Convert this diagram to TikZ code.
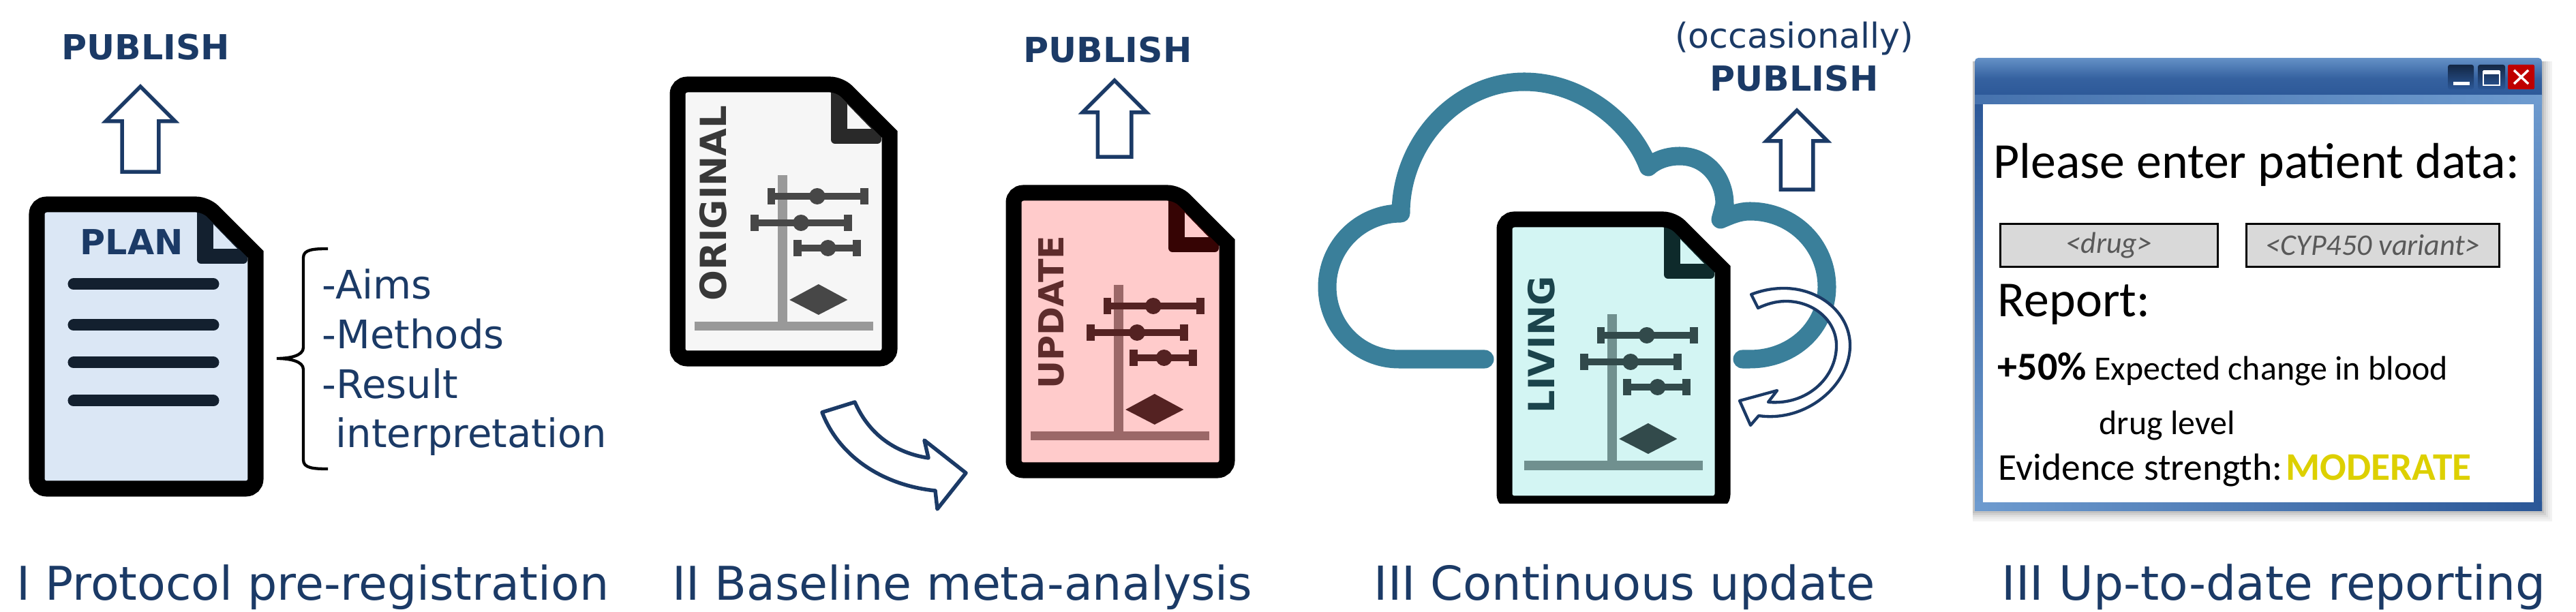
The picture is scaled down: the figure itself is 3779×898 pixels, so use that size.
\documentclass[tikz,border=0pt]{standalone}
\usepackage{fontspec}
\setmainfont{DejaVu Sans}
\newfontfamily\calibrifont{Carlito}
\usepackage{tikz}
\usetikzlibrary{shapes.arrows, positioning, calc}

\definecolor{navy}{HTML}{1B3A66}
\definecolor{cloudblue}{HTML}{3A7F9A}
\definecolor{framedark}{HTML}{2B5797}
\definecolor{framelight}{HTML}{6E9BCF}
\definecolor{plantint}{HTML}{DBE7F5}
\definecolor{plandark}{HTML}{13202F}
\definecolor{origtint}{HTML}{F6F6F6}
\definecolor{origdark}{HTML}{292929}
\definecolor{updatetint}{HTML}{FFCBCB}
\definecolor{updatedark}{HTML}{360404}
\definecolor{livingtint}{HTML}{D3F5F3}
\definecolor{livingdark}{HTML}{0E2A2B}
\definecolor{moderatecol}{HTML}{DDD000}

% one sheet: origin, width, height, paper colour, fold colour
\newcommand{\docsheet}[5]{
\begin{scope}[shift={#1}]
\fill[#4] (12,12) -- (#2-84,12) -- (#2-12,84) -- (#2-12,#3-12) -- (12,#3-12) -- cycle;
\fill[#5, rounded corners=0.06cm] (#2-98,14) -- (#2-98,99) -- (#2-24,99) -- (#2-24,80) -- (#2-85,14) -- cycle;
\fill[#4] (#2-74,41) -- (#2-74,77) -- (#2-39,77) -- cycle;
\draw[line width=0.23cm, rounded corners=0.14cm] (#2-12,85) -- (#2-12,#3-12) -- (12,#3-12) -- (12,12) -- (#2-85,12) [sharp corners] -- (#2-12,85) -- cycle;
\end{scope}}

% forest plot: origin, bar colour, axis colour
\newcommand{\forestplot}[3]{
\begin{scope}[shift={#1}, xscale=0.99]
\draw[#3, line width=0.14cm] (168,147) -- (168,366);
\draw[#3, line width=0.13cm] (37,369) -- (302,369);
\foreach \rowy/\lo/\hi/\mid in {178/151/289/219, 217/126/265/195, 254/190/278/235}{
  \draw[#2, line width=0.105cm] (\lo,\rowy) -- (\hi,\rowy);
  \fill[#2] (\lo-6,\rowy-12) rectangle (\lo+6,\rowy+12);
  \fill[#2] (\hi-6,\rowy-12) rectangle (\hi+6,\rowy+12);
  \fill[#2] (\mid,\rowy) circle (12);
}
\fill[#2] (178,330) -- (221,307) -- (264,330) -- (221,352) -- cycle;
\end{scope}}

\tikzset{
  publish/.style={font=\fontsize{14.4}{16}\selectfont\bfseries, text=navy, anchor=base, inner sep=0pt},
  doclabel/.style={font=\fontsize{15}{17}\selectfont\bfseries, rotate=90, anchor=center, inner sep=0pt},
  caption/.style={font=\fontsize{#1}{22}\selectfont, text=navy, anchor=base west, inner sep=0pt},
  uparrow/.style n args={3}{single arrow, draw=navy, fill=white, line width=0.055cm, rotate=90, anchor=tip,
    minimum height=#1, minimum width=#2, inner sep=#3, outer sep=0pt, single arrow head extend=#3},
  bendarrow/.style={draw=navy, fill=white, line join=round},
  wintext/.style={font=\calibrifont\fontsize{21}{24}\selectfont, anchor=base west, inner sep=0pt},
  smalltext/.style={font=\calibrifont\fontsize{14.2}{18}\selectfont, anchor=base west, inner sep=0pt},
  inputbox/.style={draw=black, fill=black!15, line width=0.03cm, rectangle, minimum height=0.63cm, inner sep=0pt,
    font=\calibrifont\itshape\fontsize{12.5}{15}\selectfont, text=black!65},
}

\begin{document}
\begin{tikzpicture}[x=0.01cm, y=-0.01cm]
\useasboundingbox (0,0) rectangle (3779,898);

% I Protocol

\node[publish] (publishone) at (214,88) {PUBLISH};
\node[uparrow={1.25cm}{0.97cm}{0.24cm}] (arrowone) at (206,127) {};
\docsheet{(42,288)}{345}{441}{plantint}{plandark}
\node[publish, anchor=base west] (plan) at (117,374) {PLAN};
\foreach \liney in {417,477,532,588}{
  \draw[plandark, line width=0.17cm, line cap=round] (108,\liney) -- (313,\liney);
}
\draw[line width=0.043cm] (481,365) .. controls (460,365) and (445,366) .. (445,378) -- (445,510) .. controls (445,522) and (425,526) .. (406,526) .. controls (425,526) and (445,530) .. (445,542) -- (445,675) .. controls (445,687) and (460,688) .. (481,688);
\node[anchor=base west, inner sep=0pt, align=left, text=navy, font=\fontsize{16.4}{20.7}\selectfont] (aimslist) at (472,657) {-Aims\\-Methods\\-Result\\\hspace*{0.2cm}interpretation};
\node[caption=19.4] (captionone) at (24,880) {I Protocol pre-registration};

% II Baseline

\docsheet{(982,112)}{335}{426}{origtint}{origdark}
\forestplot{(982,110)}{black!72}{black!40}
\node[doclabel, text=black!78] (original) at (1046,298) {ORIGINAL};

\node[publish] (publishtwo) at (1625,92) {PUBLISH};
\node[uparrow={1.12cm}{0.92cm}{0.22cm}] (arrowtwo) at (1635,118) {};
\docsheet{(1475,271)}{337}{431}{updatetint}{updatedark}
\forestplot{(1475,271)}{updatedark!85!updatetint}{updatedark!50!updatetint}
\node[doclabel, text=updatedark!80!updatetint, font=\fontsize{14.4}{16}\selectfont\bfseries] (update) at (1542,458) {UPDATE};

\draw[bendarrow, line width=0.055cm] (1206,605) -- (1254,590) .. controls (1276,640) and (1316,665) .. (1362,672) -- (1356,646) -- (1417,694) -- (1375,747) -- (1372,720) .. controls (1295,712) and (1231,670) .. cycle;
\node[caption=19.4] (captiontwo) at (986,880) {II Baseline meta-analysis};

% III Continuous

\draw[cloudblue, line width=0.27cm, line cap=round, line join=round] (2178,527) -- (2052,527) .. controls (1994,527) and (1947,480) .. (1947,421) .. controls (1947,362) and (1995,313) .. (2055,313) .. controls (2055,210) and (2136,120) .. (2236,120) .. controls (2320,120) and (2394,180) .. (2418,245) .. controls (2429,235) and (2446,229) .. (2464,229) .. controls (2504,229) and (2530,262) .. (2530,300) -- (2524,322) .. controls (2538,316) and (2551,310) .. (2567,310) .. controls (2631,310) and (2680,360) .. (2680,421) .. controls (2680,480) and (2631,527) .. (2567,527) -- (2556,527);

\begin{scope}
\clip (2150,300) rectangle (2600,739);
\docsheet{(2195,310)}{344}{441}{livingtint}{livingdark}
\end{scope}
\forestplot{(2199,314)}{livingdark!85}{livingdark!50!livingtint}
\node[doclabel, text=livingdark!70!cloudblue] (living) at (2261,506) {LIVING};

\node[anchor=base, inner sep=0pt, text=navy, font=\fontsize{14.4}{16}\selectfont] (occasionally) at (2632,71) {(occasionally)};
\node[publish] (publishthree) at (2632,134) {PUBLISH};
\node[uparrow={1.16cm}{0.88cm}{0.21cm}] (arrowthree) at (2636,162) {};

\draw[bendarrow, line width=0.043cm] (2569,432) .. controls (2585,426) and (2600,423) .. (2617,423) .. controls (2670,423) and (2714,460) .. (2714,507) .. controls (2714,565) and (2650,620) .. (2580,610) -- (2568,624) -- (2552,588) -- (2607,573) -- (2594,590) .. controls (2650,595) and (2694,555) .. (2694,507) .. controls (2694,470) and (2660,442) .. (2620,442) .. controls (2605,442) and (2592,446) .. (2579,452) -- cycle;
\node[caption=19.55] (captionthree) at (2015,880) {III Continuous update};

% III Up-to-date

\foreach \grow/\shadow in {15/5, 12/8, 9/12, 6/18, 3/24}{
  \fill[black!\shadow] (2894,90) rectangle (3729+\grow,750+\grow);
}
\shade[top color=framelight!85!framedark, bottom color=framedark, middle color=framedark!85!framelight, rounded corners=0.05cm] (2897,85) rectangle (3729,145);
\shade[top color=framedark, bottom color=framelight] (2897,140) rectangle (2909,750);
\shade[top color=framelight, bottom color=framedark] (3717,140) rectangle (3729,750);
\shade[left color=framedark!60!framelight, right color=framelight] (2897,140) rectangle (3729,153);
\shade[left color=framelight, right color=framedark] (2897,737) rectangle (3729,750);
\fill[white] (2909,153) rectangle (3717,737);
\shade[top color=framedark!45!black, bottom color=framedark, rounded corners=0.03cm] (3591,95) rectangle (3629,131);
\fill[white] (3599,120) rectangle (3623,125);
\shade[top color=framedark!45!black, bottom color=framedark, rounded corners=0.03cm] (3635,95) rectangle (3675,131);
\draw[white, line width=0.025cm] (3643,105) rectangle (3667,125);
\fill[white] (3643,103) rectangle (3667,109);
\fill[red!75!black, rounded corners=0.02cm] (3679,95) rectangle (3718,131);
\draw[white, line width=0.035cm] (3688,103) -- (3709,123) (3709,103) -- (3688,123);

\node[wintext] (enterdata) at (2924,262) {Please enter patient data:};
\node[inputbox, minimum width=3.19cm] (drugbox) at (3094,360) {<drug>};
\node[inputbox, minimum width=3.71cm] (cypbox) at (3481,360) {<CYP450 variant>};
\node[wintext] (report) at (2930,465) {Report:};
\node[smalltext] (expected) at (2930,558) {\textbf{\fontsize{16.5}{20}\selectfont +50\%} Expected change in blood};
\node[smalltext] (druglevel) at (3079,638) {drug level};
\node[smalltext, font=\calibrifont\fontsize{15.8}{20}\selectfont] (evidence) at (2931,705) {Evidence strength:};
\node[smalltext, text=moderatecol, font=\calibrifont\bfseries\fontsize{16.3}{20}\selectfont] (moderate) at (3353,705) {MODERATE};
\node[caption=19.75] (captionfour) at (2936,880) {III Up-to-date reporting};

\end{tikzpicture}
\end{document}
